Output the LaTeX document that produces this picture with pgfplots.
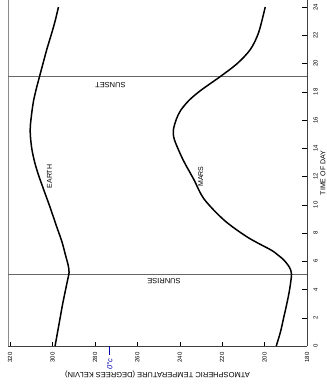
\documentclass[border=0pt]{standalone}
\usepackage{fontspec}
\setmainfont{Liberation Sans}
\usepackage{pgfplots}
\pgfplotsset{compat=1.18}
\begin{document}
\begin{tikzpicture}
\useasboundingbox (-8pt,-43pt) rectangle (319pt,346pt);
\begin{axis}[
  scale only axis, width=299pt, height=346pt,
  at={(0,0)}, anchor=south west,
  x dir=reverse, xmin=180, xmax=321, ymin=0, ymax=24.5,
  axis x line*=bottom, axis y line*=right,
  axis line style={line width=0.6pt, black!75},
  xtick={180,200,...,320}, ytick={0,2,...,24},
  tick align=inside, major tick length=4.5pt,
  tick style={black, line width=0.5pt},
  /pgf/number format/assume math mode=true,
  ticklabel style={font=\fontsize{6}{7}\selectfont},
  xticklabel style={rotate=90, anchor=east},
  xticklabel shift={3pt},
  yticklabel style={rotate=90, anchor=north},
  yticklabel shift={3pt},
  extra x ticks={273},
  extra x tick labels={\textit{0°c}},
  extra x tick style={tick align=outside, major tick length=9pt,
    tick style={blue!70!black, line width=0.6pt},
    xticklabel style={blue!70!black, font=\fontsize{7.5}{8}\selectfont}, xticklabel shift={0pt}},
  xlabel={ATMOSPHERIC TEMPERATURE (DEGREES KELVIN)},
  xlabel style={at={(axis description cs:0.5,-0.081)}, anchor=center, rotate=180, font=\fontsize{7.5}{9}\selectfont},
  ylabel={TIME OF DAY},
  ylabel style={at={(axis description cs:1.053,0.5)}, anchor=center, font=\fontsize{7}{8}\selectfont},
  clip=false,
]
% frame left edge
\addplot[black!45, line width=0.5pt] coordinates {(321,0) (321,24.5)};
% sunrise / sunset
\addplot[black!60, line width=0.7pt] coordinates {(321,5.1) (180,5.1)};
\addplot[black!60, line width=0.7pt] coordinates {(321,19.12) (180,19.12)};
% Earth
\addplot[black, line width=1.5pt, smooth, tension=0.5] coordinates {
(298.8,0) (297.6,1) (296.4,2) (295.2,3) (294.1,3.8) (293,4.6) (292.2,5.2)
(292.6,5.7) (294,6.5) (295.6,7.4) (298.4,8.6) (301.1,9.8) (304,11) (306.6,12.1)
(308.4,13) (309.7,13.9) (310.4,14.8) (310.5,15.5) (309.8,16.5) (308.9,17.4)
(307.5,18.3) (306.1,19.1) (304.5,20) (302.7,21) (300.3,22.2) (298.8,23) (297.2,24)};
% Mars
\addplot[black, line width=1.5pt, smooth, tension=0.5] coordinates {
(194.5,0) (192.5,1) (191,2) (189.5,3) (188.2,4) (187.3,5.1) (188.4,5.6) (191,6.1)
(194.2,6.5) (197,6.8) (208,7.7) (219,8.9) (228.5,10.4) (233.4,11.8) (238.5,13.2)
(242.5,14.6) (243,15.3) (241.5,16.1) (239.5,16.7) (235.6,17.4) (230.1,18.1)
(220.7,19.1) (212.9,20) (206.7,21) (202.8,22.2) (199.7,24)};
\node[rotate=180, font=\fontsize{7.5}{9}\selectfont] at (axis cs:247.4,4.6) {SUNRISE};
\node[rotate=180, font=\fontsize{7.5}{9}\selectfont] at (axis cs:272.7,18.5) {SUNSET};
\node[rotate=90, font=\fontsize{7}{8}\selectfont] at (axis cs:301.4,12.0) {EARTH};
\node[rotate=90, font=\fontsize{7}{8}\selectfont] at (axis cs:230.1,12.0) {MARS};
\end{axis}
\end{tikzpicture}
\end{document}
